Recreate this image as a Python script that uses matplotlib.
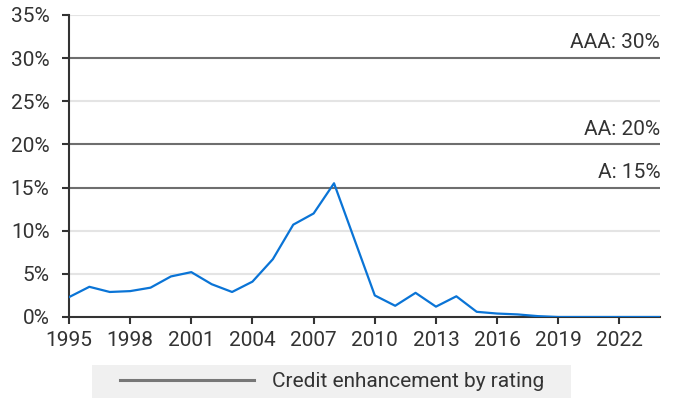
import matplotlib.pyplot as plt
from matplotlib.patches import Rectangle
from matplotlib.ticker import FuncFormatter

plt.rcParams['font.family'] = ['Roboto', 'DejaVu Sans']

years = list(range(1995, 2025))
share = [2.3, 3.5, 2.9, 3.0, 3.4, 4.7, 5.2, 3.8, 2.9, 4.1,
         6.7, 10.7, 12.0, 15.5, 9.0, 2.5, 1.3, 2.8, 1.2, 2.4,
         0.6, 0.4, 0.3, 0.1, 0.0, 0.0, 0.0, 0.0, 0.0, 0.0]

ratings = ['AAA', 'AA', 'A']
enhancement = [30, 20, 15]

text_col = '#333333'
fs = 15

fig = plt.figure(figsize=(6.73, 4.0), dpi=100)
ax = fig.add_axes([0.1025, 0.2075, 0.8785, 0.755])

# light grid
for y in range(5, 40, 5):
    if y not in enhancement:
        ax.axhline(y, color='#e4e4e4', lw=1.5, zorder=0)

# rating thresholds
for r, v in zip(ratings, enhancement):
    ax.axhline(v, color='#6e6e6e', lw=1.5, zorder=1)
    ax.annotate(f'{r}: {v}%', xy=(2024, v), xytext=(0, 7),
                textcoords='offset points', ha='right', va='baseline',
                fontsize=fs, color=text_col)

ax.plot(years, share, color='#0a74d6', lw=1.6, zorder=3)

ax.set_xlim(1995, 2024)
ax.set_ylim(0, 35)
ax.set_xticks(range(1995, 2025, 3))
ax.set_yticks(range(0, 40, 5))
ax.yaxis.set_major_formatter(FuncFormatter(lambda v, p: f'{v:.0f}%'))

for s in ['top', 'right']:
    ax.spines[s].set_visible(False)
for s in ['left', 'bottom']:
    ax.spines[s].set_color('#333333')
    ax.spines[s].set_linewidth(1.5)
ax.tick_params(direction='out', length=5, width=1.5, color='#333333',
               labelsize=fs, labelcolor=text_col)
ax.tick_params(axis='x', pad=5)
ax.tick_params(axis='y', pad=9)

# legend with a grey band behind it
fig.patches.append(Rectangle((0.1367, 0.005), 0.7117, 0.0825,
                             transform=fig.transFigure, facecolor='#f0f0f0',
                             edgecolor='none', zorder=0))
h, = ax.plot([], [], color='#777777', lw=2.2)
leg = fig.legend([h], ['Credit enhancement by rating'], loc='center',
                 bbox_to_anchor=(0.494, 0.046), frameon=False,
                 fontsize=fs, handlelength=6.4, handletextpad=0.9,
                 borderpad=0, borderaxespad=0)
for t in leg.get_texts():
    t.set_color(text_col)

fig.savefig('out.png', dpi=100)
